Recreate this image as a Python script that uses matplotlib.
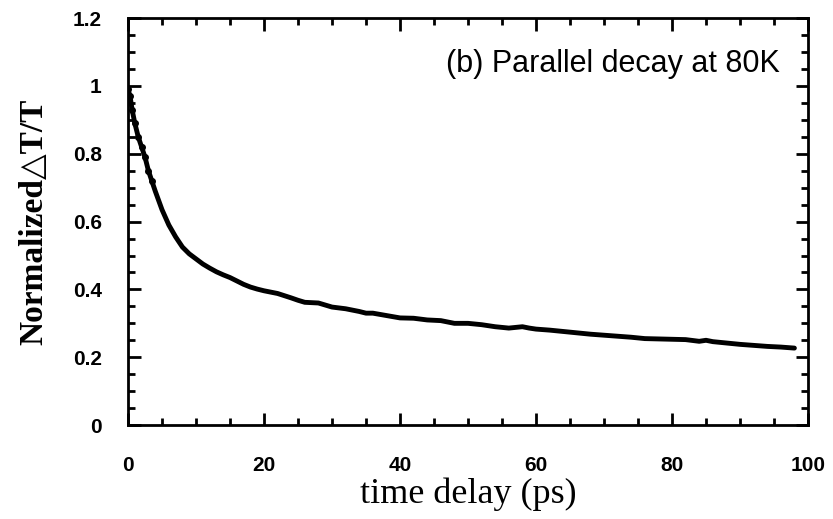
import numpy as np
import matplotlib.pyplot as plt
from matplotlib.ticker import MultipleLocator

# time delay (ps) and normalized dT/T
time_ps = [0, 0.3, 0.6, 1, 1.5, 2, 2.5, 3, 3.5, 4, 5, 6, 7, 8, 9, 10, 11, 12, 13, 14,
           15, 16, 17, 18, 19, 20, 22, 24, 25, 26, 28, 30, 32, 34, 35, 36, 38, 40, 42,
           44, 46, 48, 50, 52, 54, 56, 58, 59, 60, 62, 64, 66, 68, 70, 72, 74, 76, 78,
           80, 82, 84, 85, 86, 88, 90, 92, 94, 96, 98]
dtt = [0.99, 0.97, 0.93, 0.89, 0.85, 0.82, 0.79, 0.75, 0.72, 0.69, 0.635, 0.59, 0.555,
       0.525, 0.505, 0.49, 0.475, 0.463, 0.452, 0.443, 0.435, 0.425, 0.415, 0.407, 0.401,
       0.396, 0.388, 0.375, 0.368, 0.362, 0.36, 0.348, 0.343, 0.335, 0.33, 0.33, 0.323,
       0.316, 0.315, 0.31, 0.308, 0.30, 0.30, 0.296, 0.29, 0.286, 0.29, 0.286, 0.283,
       0.28, 0.276, 0.272, 0.268, 0.265, 0.262, 0.259, 0.255, 0.254, 0.253, 0.252, 0.247,
       0.25, 0.246, 0.242, 0.238, 0.235, 0.232, 0.23, 0.227]

fig = plt.figure(figsize=(8.33, 5.19), dpi=100)
ax = fig.add_axes([0.1537, 0.181, 0.8163, 0.784])

ax.plot(time_ps, dtt, color='black', lw=3.5, solid_joinstyle='round', solid_capstyle='round')
# a few dots at the very start, as in the scan
ax.plot(time_ps[:9], dtt[:9], 'o', color='black', ms=4)

ax.set_xlim(0, 100)
ax.set_ylim(0, 1.2)
ax.xaxis.set_minor_locator(MultipleLocator(5))
ax.yaxis.set_minor_locator(MultipleLocator(0.05))
ax.set_yticks([0, 0.2, 0.4, 0.6, 0.8, 1.0, 1.2])
ax.set_yticklabels(['0', '0.2', '0.4', '0.6', '0.8', '1', '1.2'])
ax.set_xticks([0, 20, 40, 60, 80, 100])
ax.set_xticklabels(['0', '20', '40', '60', '80', '100'])

ax.tick_params(which='both', direction='in', top=True, right=True, width=2)
ax.tick_params(which='major', length=9, labelsize=15)
ax.tick_params(which='minor', length=5)
ax.tick_params(axis='x', which='major', pad=22)
ax.tick_params(axis='y', which='major', pad=19)
for lbl in ax.get_xticklabels() + ax.get_yticklabels():
    lbl.set_fontweight('bold')
    lbl.set_family('Liberation Sans')
for sp in ax.spines.values():
    sp.set_linewidth(2)

ax.set_xlabel('time delay (ps)', family='Liberation Serif', fontsize=26, labelpad=2)
ax.set_ylabel('Normalized\u25b3T/T', family=['Liberation Serif', 'DejaVu Serif'],
              fontsize=24, fontweight='bold', labelpad=17)

ax.text(0.959, 0.887, '(b) Parallel decay at 80K', transform=ax.transAxes,
        ha='right', va='center', fontsize=22, family='Liberation Sans')

fig.savefig('out.png', dpi=100)
